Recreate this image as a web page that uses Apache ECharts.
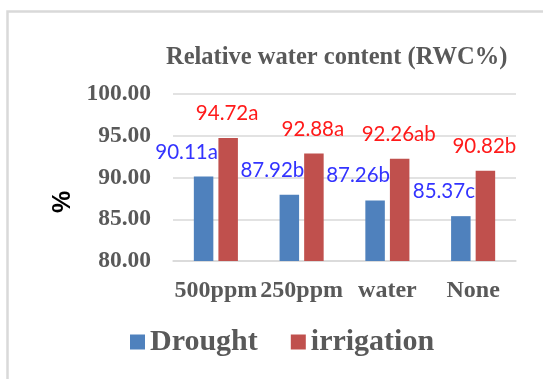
<!DOCTYPE html>
<html>
<head>
    <meta charset="utf-8">
    <style>
        html,body{margin:0;padding:0;background:#fff;}
        #chart{width:543px;height:379px;}
    </style>
</head>
<body>
<div id="chart"></div>
<script src="https://cdn.jsdelivr.net/npm/echarts@6/dist/echarts.min.js"></script>
<script>
    var categories = ['500ppm', '250ppm', 'water', 'None'];
    var droughtValues = [90.11, 87.92, 87.26, 85.37];
    var droughtLetters = ['a', 'b', 'b', 'c'];
    var irrigationValues = [94.72, 92.88, 92.26, 90.82];
    var irrigationLetters = ['a', 'a', 'ab', 'b'];
    var yTicks = [80, 85, 90, 95, 100];

    var serif = 'Liberation Serif';
    var grey = '#595959';

    var myChart = echarts.init(document.getElementById('chart'), null, {renderer: 'canvas'});
    var option = {
        backgroundColor: '#fff',
        animation: false,
        title: {
            text: 'Relative water content (RWC%)',
            left: 161,
            top: 40,
            textStyle: {fontFamily: serif, fontWeight: 'bold', fontSize: 24.5, color: grey}
        },
        legend: {
            data: ['Drought', 'irrigation'],
            left: 125,
            top: 322,
            icon: 'rect',
            itemWidth: 15,
            itemHeight: 15,
            itemGap: 33,
            textStyle: {fontFamily: serif, fontWeight: 'bold', fontSize: 30, color: grey}
        },
        grid: {left: 173, right: 27, top: 94, bottom: 118},
        xAxis: {
            type: 'category',
            data: categories,
            axisTick: {show: false},
            axisLine: {lineStyle: {color: '#d9d9d9', width: 1.5}},
            axisLabel: {margin: 18, interval: 0, fontFamily: serif, fontWeight: 'bold', fontSize: 24, color: grey}
        },
        yAxis: {
            type: 'value',
            min: yTicks[0],
            max: yTicks[yTicks.length - 1],
            interval: 5,
            axisLine: {show: false},
            axisTick: {show: false},
            splitLine: {lineStyle: {color: '#d9d9d9', width: 1.5}},
            axisLabel: {
                margin: 22,
                fontFamily: serif, fontWeight: 'bold', fontSize: 23.5, color: grey,
                formatter: function (v) { return v.toFixed(2); }
            }
        },
        graphic: [
            {
                type: 'rect',
                shape: {x: 7.5, y: 11.5, width: 600, height: 400},
                style: {fill: 'none', stroke: '#d9d9d9', lineWidth: 2.5},
                silent: true
            },
            {
                type: 'text',
                x: 63, y: 202,
                rotation: Math.PI / 2,
                style: {text: '%', font: 'bold 25px "Liberation Sans"', fill: '#000', align: 'center', verticalAlign: 'middle'}
            }
        ],
        series: [
            {
                name: 'Drought',
                type: 'bar',
                data: droughtValues,
                barWidth: 19.5,
                barGap: '26%',
                itemStyle: {color: '#4f81bd'},
                label: {
                    show: true,
                    position: 'top',
                    offset: [-17, -9],
                    fontFamily: 'Lato',
                    fontSize: 20.5,
                    color: '#3333ff',
                    formatter: function (p) { return p.value.toFixed(2) + droughtLetters[p.dataIndex]; }
                }
            },
            {
                name: 'irrigation',
                type: 'bar',
                data: irrigationValues,
                barWidth: 19.5,
                itemStyle: {color: '#c0504d'},
                label: {
                    show: true,
                    position: 'top',
                    offset: [-1, -9],
                    fontFamily: 'Lato',
                    fontSize: 20.5,
                    color: '#ff1a1a',
                    formatter: function (p) { return p.value.toFixed(2) + irrigationLetters[p.dataIndex]; }
                }
            }
        ]
    };
    myChart.setOption(option);
</script>
</body>
</html>
